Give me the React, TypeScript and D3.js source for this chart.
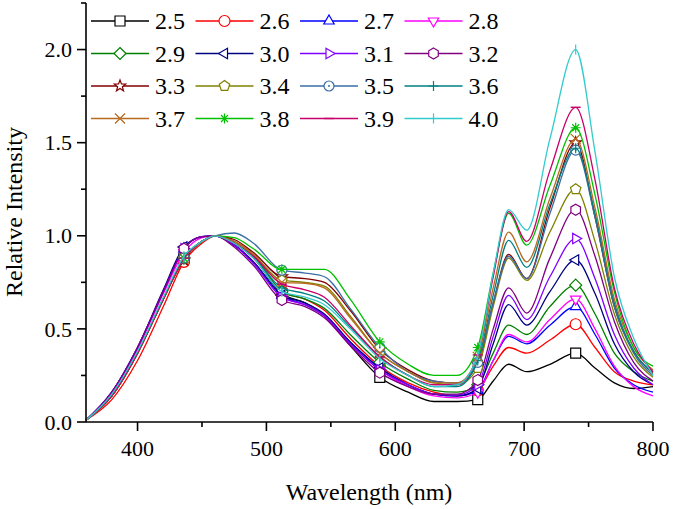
import React from 'react'
import * as d3 from 'd3'

const wavelengths = [360, 380, 400, 420, 436, 450, 460, 475, 490, 512, 530, 545, 565, 588, 610, 630, 648, 664, 676, 688, 702, 720, 740, 755, 770, 785, 800]
const markerWavelengths = [436, 512, 588, 664, 740]

const seriesNames = ['2.5', '2.6', '2.7', '2.8', '2.9', '3.0', '3.1', '3.2', '3.3', '3.4', '3.5', '3.6', '3.7', '3.8', '3.9', '4.0']
const seriesColors = ['#000000', '#ff0000', '#0000ff', '#ff00ff', '#008000', '#000080', '#8000ff', '#800080', '#800000', '#808000', '#3a6ea5', '#008080', '#b86b1f', '#00c000', '#c8006a', '#33cccc']
const seriesMarkers = ['square', 'circle', 'triUp', 'triDown', 'diamond', 'triLeft', 'triRight', 'hexagon', 'star', 'pentagon', 'dotCircle', 'plus', 'cross', 'asterisk', 'hbar', 'vbar']

const s25 = [0.01, 0.14, 0.37, 0.66, 0.88, 0.97, 1.0, 0.96, 0.88, 0.69, 0.64, 0.57, 0.41, 0.24, 0.16, 0.11, 0.11, 0.12, 0.22, 0.31, 0.27, 0.31, 0.37, 0.29, 0.21, 0.18, 0.19]
const s26 = [0.01, 0.12, 0.33, 0.62, 0.86, 0.96, 1.0, 0.97, 0.9, 0.70, 0.66, 0.60, 0.45, 0.30, 0.21, 0.16, 0.14, 0.17, 0.30, 0.40, 0.37, 0.44, 0.525, 0.40, 0.27, 0.22, 0.2]
const s27 = [0.01, 0.16, 0.40, 0.70, 0.93, 0.995, 1.0, 0.95, 0.86, 0.68, 0.63, 0.57, 0.43, 0.29, 0.2, 0.15, 0.14, 0.17, 0.33, 0.46, 0.42, 0.52, 0.62, 0.47, 0.29, 0.2, 0.16]
const s28 = [0.01, 0.15, 0.39, 0.69, 0.91, 0.99, 1.0, 0.95, 0.86, 0.67, 0.63, 0.57, 0.42, 0.28, 0.19, 0.14, 0.13, 0.16, 0.33, 0.47, 0.43, 0.55, 0.66, 0.5, 0.3, 0.19, 0.14]
const s29 = [0.01, 0.14, 0.37, 0.66, 0.88, 0.97, 1.0, 0.96, 0.89, 0.70, 0.66, 0.61, 0.47, 0.32, 0.23, 0.17, 0.16, 0.2, 0.37, 0.52, 0.47, 0.62, 0.735, 0.58, 0.37, 0.27, 0.22]
const s30 = [0.01, 0.16, 0.40, 0.71, 0.94, 0.995, 1.0, 0.95, 0.86, 0.68, 0.64, 0.58, 0.43, 0.29, 0.2, 0.15, 0.14, 0.18, 0.42, 0.63, 0.52, 0.7, 0.87, 0.69, 0.42, 0.27, 0.2]
const s31 = [0.01, 0.16, 0.40, 0.70, 0.93, 0.995, 1.0, 0.95, 0.85, 0.67, 0.63, 0.57, 0.42, 0.28, 0.2, 0.15, 0.145, 0.2, 0.46, 0.68, 0.55, 0.78, 0.985, 0.77, 0.47, 0.29, 0.2]
const s32 = [0.01, 0.16, 0.40, 0.70, 0.93, 0.995, 1.0, 0.94, 0.84, 0.655, 0.62, 0.56, 0.41, 0.265, 0.19, 0.15, 0.15, 0.225, 0.5, 0.72, 0.585, 0.88, 1.14, 0.89, 0.54, 0.32, 0.22]
const s33 = [0.01, 0.14, 0.37, 0.66, 0.87, 0.97, 1.0, 0.98, 0.91, 0.78, 0.77, 0.75, 0.6, 0.39, 0.28, 0.22, 0.21, 0.31, 0.64, 0.9, 0.77, 1.15, 1.50, 1.1, 0.62, 0.38, 0.26]
const s34 = [0.01, 0.14, 0.37, 0.66, 0.88, 0.97, 1.0, 0.97, 0.9, 0.76, 0.75, 0.73, 0.57, 0.37, 0.27, 0.21, 0.2, 0.29, 0.62, 0.88, 0.76, 1.02, 1.25, 0.97, 0.58, 0.35, 0.24]
const s35 = [0.01, 0.14, 0.37, 0.66, 0.88, 0.97, 1.0, 1.015, 0.96, 0.815, 0.80, 0.78, 0.61, 0.40, 0.27, 0.22, 0.21, 0.32, 0.64, 0.89, 0.77, 1.12, 1.46, 1.1, 0.62, 0.37, 0.25]
const s36 = [0.01, 0.14, 0.37, 0.66, 0.88, 0.97, 1.0, 0.96, 0.89, 0.72, 0.69, 0.65, 0.51, 0.35, 0.25, 0.19, 0.19, 0.33, 0.68, 0.975, 0.83, 1.17, 1.47, 1.12, 0.64, 0.38, 0.27]
const s37 = [0.01, 0.14, 0.37, 0.66, 0.88, 0.97, 1.0, 0.97, 0.9, 0.75, 0.745, 0.72, 0.56, 0.37, 0.27, 0.21, 0.21, 0.35, 0.72, 1.02, 0.86, 1.2, 1.52, 1.15, 0.66, 0.4, 0.28]
const s38 = [0.01, 0.14, 0.37, 0.66, 0.88, 0.97, 1.0, 0.99, 0.93, 0.82, 0.82, 0.82, 0.66, 0.43, 0.31, 0.25, 0.25, 0.40, 0.8, 1.12, 0.95, 1.27, 1.58, 1.22, 0.70, 0.40, 0.3]
const s39 = [0.01, 0.14, 0.37, 0.66, 0.88, 0.97, 1.0, 0.96, 0.89, 0.74, 0.71, 0.67, 0.52, 0.35, 0.25, 0.2, 0.2, 0.36, 0.78, 1.13, 0.97, 1.35, 1.69, 1.3, 0.72, 0.42, 0.27]
const s40 = [0.01, 0.15, 0.38, 0.67, 0.89, 0.97, 1.0, 0.96, 0.88, 0.70, 0.67, 0.63, 0.5, 0.34, 0.25, 0.19, 0.2, 0.36, 0.8, 1.14, 1.03, 1.52, 2.0, 1.45, 0.78, 0.45, 0.25]
const seriesValues = [s25, s26, s27, s28, s29, s30, s31, s32, s33, s34, s35, s36, s37, s38, s39, s40]

const xTicks = [400, 500, 600, 700, 800]
const yTicks = [0, 0.5, 1.0, 1.5, 2.0]

const W = 675
const H = 509
const margin = { left: 86, right: 22, top: 3, bottom: 87 }
const FONT = "'Liberation Serif', 'DejaVu Serif', 'Times New Roman', serif"

const poly = (n: number, r: number, rot: number) => {
  const pts: string[] = []
  for (let i = 0; i < n; i++) {
    const a = rot + (i * 2 * Math.PI) / n
    pts.push((r * Math.cos(a)).toFixed(2) + ',' + (r * Math.sin(a)).toFixed(2))
  }
  return 'M' + pts.join('L') + 'Z'
}

const starPath = (ro: number, ri: number) => {
  const pts: string[] = []
  for (let i = 0; i < 10; i++) {
    const r = i % 2 === 0 ? ro : ri
    const a = -Math.PI / 2 + (i * Math.PI) / 5
    pts.push((r * Math.cos(a)).toFixed(2) + ',' + (r * Math.sin(a)).toFixed(2))
  }
  return 'M' + pts.join('L') + 'Z'
}

const Marker = ({ type, x, y, color }: { type: string; x: number; y: number; color: string }) => {
  const r = 5
  const common = { stroke: color, strokeWidth: 1.2, fill: '#fff', transform: `translate(${x},${y})` }
  switch (type) {
    case 'square':
      return <path d={`M${-r},${-r}h${2 * r}v${2 * r}h${-2 * r}Z`} {...common} />
    case 'circle':
      return <circle r={r + 0.5} {...common} />
    case 'triUp':
      return <path d={poly(3, r + 1, -Math.PI / 2)} {...common} />
    case 'triDown':
      return <path d={poly(3, r + 1, Math.PI / 2)} {...common} />
    case 'triLeft':
      return <path d={poly(3, r + 1, Math.PI)} {...common} />
    case 'triRight':
      return <path d={poly(3, r + 1, 0)} {...common} />
    case 'diamond':
      return <path d={`M0,${-r - 1}L${r + 1},0L0,${r + 1}L${-r - 1},0Z`} {...common} />
    case 'hexagon':
      return <path d={poly(6, r + 0.5, -Math.PI / 2)} {...common} />
    case 'pentagon':
      return <path d={poly(5, r + 0.5, -Math.PI / 2)} {...common} />
    case 'star':
      return <path d={starPath(r + 1, 2.5)} {...common} />
    case 'dotCircle':
      return (
        <g transform={common.transform}>
          <circle r={r} stroke={color} strokeWidth={1.2} fill="#fff" />
          <circle r={1} fill={color} />
        </g>
      )
    case 'plus':
      return <path d={`M${-r},0H${r}M0,${-r}V${r}`} stroke={color} strokeWidth={1.2} fill="none" transform={common.transform} />
    case 'cross':
      return <path d={`M${-r},${-r}L${r},${r}M${-r},${r}L${r},${-r}`} stroke={color} strokeWidth={1.2} fill="none" transform={common.transform} />
    case 'asterisk':
      return <path d={`M${-r},0H${r}M0,${-r}V${r}M${-r * 0.7},${-r * 0.7}L${r * 0.7},${r * 0.7}M${-r * 0.7},${r * 0.7}L${r * 0.7},${-r * 0.7}`} stroke={color} strokeWidth={1.2} fill="none" transform={common.transform} />
    case 'hbar':
      return <path d={`M${-r},0H${r}`} stroke={color} strokeWidth={1.4} fill="none" transform={common.transform} />
    case 'vbar':
      return <path d={`M0,${-r}V${r}`} stroke={color} strokeWidth={1.2} fill="none" transform={common.transform} />
    default:
      return null
  }
}

export default function App() {
  const x = d3.scaleLinear().domain([360, 800]).range([margin.left, W - margin.right])
  const y = d3.scaleLinear().domain([0, 2.25]).range([H - margin.bottom, margin.top])

  const line = d3
    .line<number>()
    .x((_, i) => x(wavelengths[i]))
    .y((d) => y(d))
    .curve(d3.curveMonotoneX)

  const x0 = margin.left
  const y0 = H - margin.bottom
  const minorX = d3.range(350, 801, 50).filter((v) => v > 360 && v % 100 !== 0)
  const minorY = d3.range(0.25, 2.3, 0.5)

  return (
    <svg width={W} height={H} style={{ position: 'absolute', left: 0, top: 0, background: '#fff' }}>
      <rect width={W} height={H} fill="#fff" />
      {/* curves */}
      {seriesValues.map((vals, si) => (
        <g key={seriesNames[si]}>
          <path d={line(vals) || ''} fill="none" stroke={seriesColors[si]} strokeWidth={1.3} />
          {markerWavelengths.map((mw) => {
            const idx = wavelengths.indexOf(mw)
            return <Marker key={mw} type={seriesMarkers[si]} x={x(mw)} y={y(vals[idx])} color={seriesColors[si]} />
          })}
        </g>
      ))}

      {/* axes */}
      <g fontFamily={FONT}>
        <line x1={x0} x2={x0} y1={margin.top} y2={y0} stroke="#000" strokeWidth={1.6} />
        <line x1={x0} x2={W - margin.right} y1={y0} y2={y0} stroke="#000" strokeWidth={1.6} />
        {yTicks.map((t) => (
          <g key={t}>
            <line x1={x0 - 9} x2={x0} y1={y(t)} y2={y(t)} stroke="#000" strokeWidth={1.6} />
            <text x={x0 - 14} y={y(t)} dy="0.35em" textAnchor="end" fontSize={22}>
              {t.toFixed(1)}
            </text>
          </g>
        ))}
        {minorY.map((t) => (
          <line key={t} x1={x0 - 5} x2={x0} y1={y(t)} y2={y(t)} stroke="#000" strokeWidth={1.6} />
        ))}
        {xTicks.map((t) => (
          <g key={t}>
            <line x1={x(t)} x2={x(t)} y1={y0} y2={y0 + 9} stroke="#000" strokeWidth={1.6} />
            <text x={x(t)} y={y0 + 34} textAnchor="middle" fontSize={22}>
              {t}
            </text>
          </g>
        ))}
        {minorX.map((t) => (
          <line key={t} x1={x(t)} x2={x(t)} y1={y0} y2={y0 + 5} stroke="#000" strokeWidth={1.6} />
        ))}
        <text x={369} y={500} textAnchor="middle" fontSize={24}>
          Wavelength (nm)
        </text>
        <text transform="translate(22,212) rotate(-90)" textAnchor="middle" fontSize={24}>
          Relative Intensity
        </text>

        {/* legend */}
        {seriesNames.map((name, i) => {
          const col = i % 4
          const row = Math.floor(i / 4)
          const lx = 91 + col * 104.5
          const ly = 21 + row * 32.5
          return (
            <g key={name}>
              <line x1={lx} x2={lx + 58} y1={ly} y2={ly} stroke={seriesColors[i]} strokeWidth={1.3} />
              <Marker type={seriesMarkers[i]} x={lx + 29} y={ly} color={seriesColors[i]} />
              <text x={lx + 64} y={ly} dy="0.35em" fontSize={24}>
                {name}
              </text>
            </g>
          )
        })}
      </g>
    </svg>
  )
}
